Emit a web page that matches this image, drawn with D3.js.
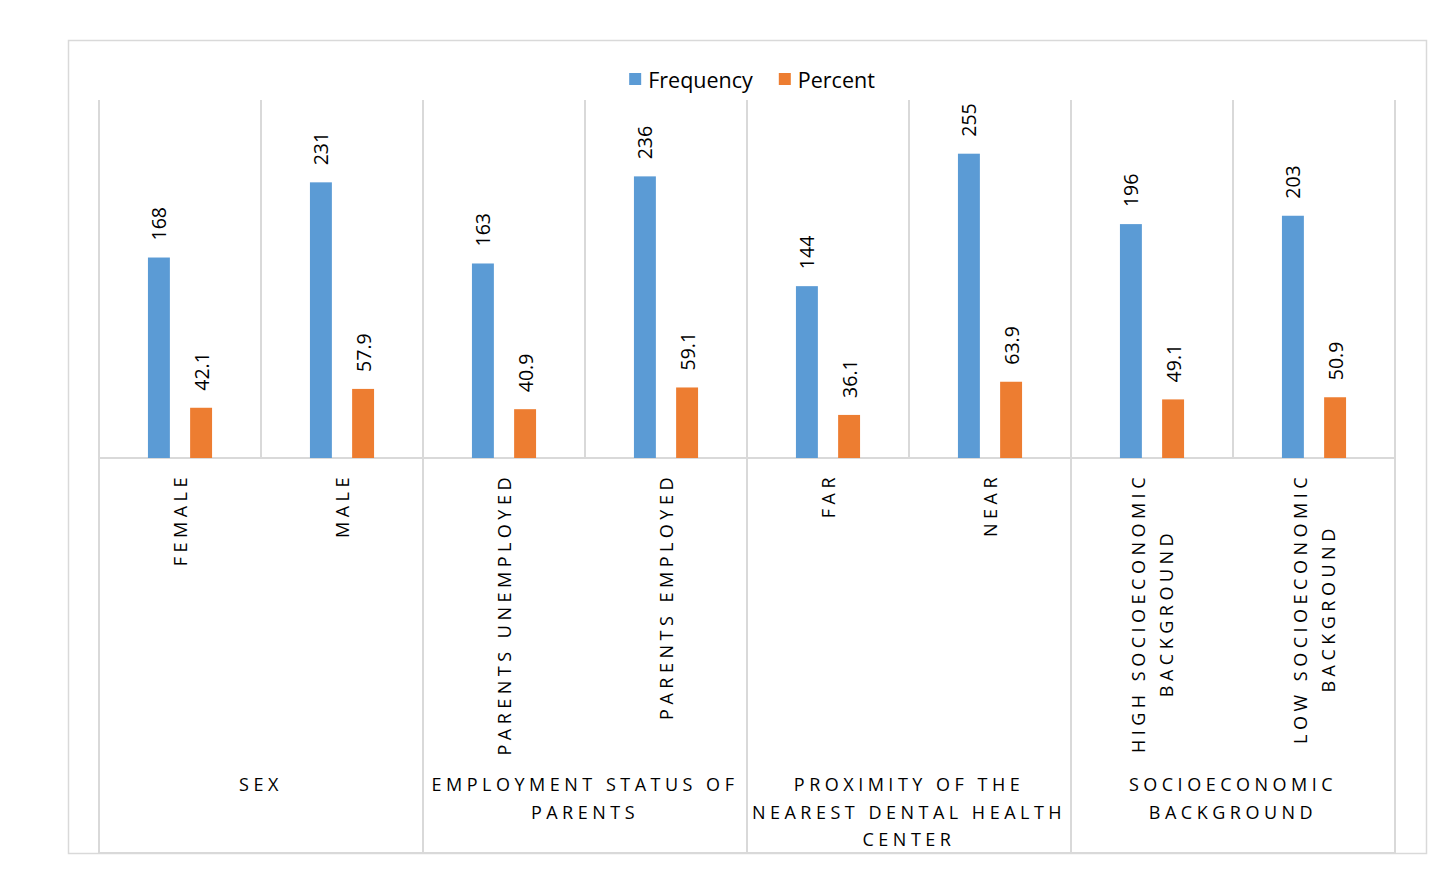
<!DOCTYPE html>
<html>
<head>
<meta charset="utf-8">
<script src="https://cdn.jsdelivr.net/npm/d3@7"></script>
<style>
  body { margin: 0; background: #fff; }
  text { font-family: "Open Sans", sans-serif; fill: #000; }
</style>
</head>
<body>
<div id="viz"></div>
<script>
// data
const categories = [
    ["FEMALE"], ["MALE"],
    ["PARENTS UNEMPLOYED"], ["PARENTS EMPLOYED"],
    ["FAR"], ["NEAR"],
    ["HIGH SOCIOECONOMIC", "BACKGROUND"], ["LOW SOCIOECONOMIC", "BACKGROUND"]
];
const groups = [
    ["SEX"],
    ["EMPLOYMENT STATUS OF", "PARENTS"],
    ["PROXIMITY OF THE", "NEAREST DENTAL HEALTH", "CENTER"],
    ["SOCIOECONOMIC", "BACKGROUND"]
];
const groupSize = [2, 2, 2, 2];
const seriesNames = ["Frequency", "Percent"];
const frequency = [168, 231, 163, 236, 144, 255, 196, 203];
const percent = [42.1, 57.9, 40.9, 59.1, 36.1, 63.9, 49.1, 50.9];

const W = 1446, H = 883;
const colors = ["#5B9BD5", "#ED7D31"];
const gridColor = "#D9D9D9";

const plotLeft = 99, plotRight = 1395, plotTop = 100, base = 458, plotBottom = 853;

const svg = d3.select("#viz").append("svg")
    .attr("width", W)
    .attr("height", H);

// outer frame
svg.append("rect")
    .attr("x", 68.5).attr("y", 40.5)
    .attr("width", 1358).attr("height", 813)
    .attr("fill", "#fff")
    .attr("stroke", gridColor)
    .attr("stroke-width", 1.5);

const idx = d3.range(categories.length);
const x = d3.scaleBand().domain(idx).range([plotLeft, plotRight]).padding(0);
const xSub = d3.scaleBand().domain(seriesNames)
    .range([0, x.bandwidth()])
    .paddingInner(0.48)
    .paddingOuter(1.16);
const y = d3.scaleLinear().domain([0, 300]).range([base, plotTop]);

const edge = i => i < categories.length ? x(i) : plotRight;

// vertical gridlines between categories
svg.append("g").selectAll("line")
    .data(d3.range(categories.length + 1))
    .join("line")
    .attr("x1", edge)
    .attr("x2", edge)
    .attr("y1", plotTop)
    .attr("y2", base)
    .attr("stroke", gridColor)
    .attr("stroke-width", 2);

// group boundaries below the axis
const groupStart = Array.from(d3.cumsum([0, ...groupSize]));
svg.append("g").selectAll("line")
    .data(groupStart)
    .join("line")
    .attr("x1", edge)
    .attr("x2", edge)
    .attr("y1", base)
    .attr("y2", plotBottom)
    .attr("stroke", gridColor)
    .attr("stroke-width", 2);

// baseline and bottom line
[base, plotBottom].forEach(yy => {
    svg.append("line")
        .attr("x1", plotLeft).attr("x2", plotRight)
        .attr("y1", yy).attr("y2", yy)
        .attr("stroke", gridColor)
        .attr("stroke-width", 2);
});

// bars
const rows = idx.map(i => ({ i, vals: [frequency[i], percent[i]] }));
const cat = svg.append("g").selectAll("g")
    .data(rows)
    .join("g")
    .attr("transform", d => `translate(${x(d.i)},0)`);

cat.selectAll("rect")
    .data(d => d.vals.map((v, k) => ({ v, k })))
    .join("rect")
    .attr("x", d => xSub(seriesNames[d.k]))
    .attr("width", xSub.bandwidth())
    .attr("y", d => y(d.v))
    .attr("height", d => base - y(d.v))
    .attr("fill", d => colors[d.k]);

// data labels, rotated
cat.selectAll("text.val")
    .data(d => d.vals.map((v, k) => ({ v, k })))
    .join("text")
    .attr("class", "val")
    .attr("transform", d => `translate(${xSub(seriesNames[d.k]) + xSub.bandwidth() / 2},${y(d.v) - 17}) rotate(-90)`)
    .attr("dominant-baseline", "central")
    .attr("font-size", 19.5)
    .text(d => d.v);

// category labels, rotated, lines centered on each other
const catLabels = svg.append("g").selectAll("g")
    .data(idx)
    .join("g");
catLabels.each(function (i) {
    const g = d3.select(this);
    const lines = categories[i];
    const n = lines.length;
    const texts = g.selectAll("text")
        .data(lines)
        .join("text")
        .attr("font-size", 18)
        .attr("letter-spacing", 4.5)
        .attr("text-anchor", "middle")
        .attr("dominant-baseline", "central")
        .attr("y", (d, k) => (k - (n - 1) / 2) * 28)
        .text(d => d);
    const maxLen = d3.max(texts.nodes(), t => t.getComputedTextLength());
    g.attr("transform", `translate(${x(i) + x.bandwidth() / 2},${473 + maxLen / 2}) rotate(-90)`);
});

// group labels
svg.append("g").selectAll("text")
    .data(groups)
    .join("text")
    .attr("font-size", 18)
    .attr("letter-spacing", 4.5)
    .attr("text-anchor", "middle")
    .each(function (lines, gi) {
        const x0 = edge(groupStart[gi]);
        const x1 = edge(groupStart[gi + 1]);
        d3.select(this).selectAll("tspan")
            .data(lines)
            .join("tspan")
            .attr("x", (x0 + x1) / 2)
            .attr("y", (d, k) => 784 + k * 27.5)
            .attr("dominant-baseline", "central")
            .text(d => d);
    });

// legend
const legend = svg.append("g");
let lx = 0;
seriesNames.forEach((name, k) => {
    legend.append("rect")
        .attr("x", lx).attr("y", 73)
        .attr("width", 12).attr("height", 12)
        .attr("fill", colors[k]);
    const t = legend.append("text")
        .attr("x", lx + 19).attr("y", 79)
        .attr("dominant-baseline", "central")
        .attr("font-size", 21.5)
        .text(name);
    lx += 19 + t.node().getComputedTextLength() + 26;
});
const legendW = lx - 26;
legend.attr("transform", `translate(${752 - legendW / 2},0)`);
</script>
</body>
</html>
